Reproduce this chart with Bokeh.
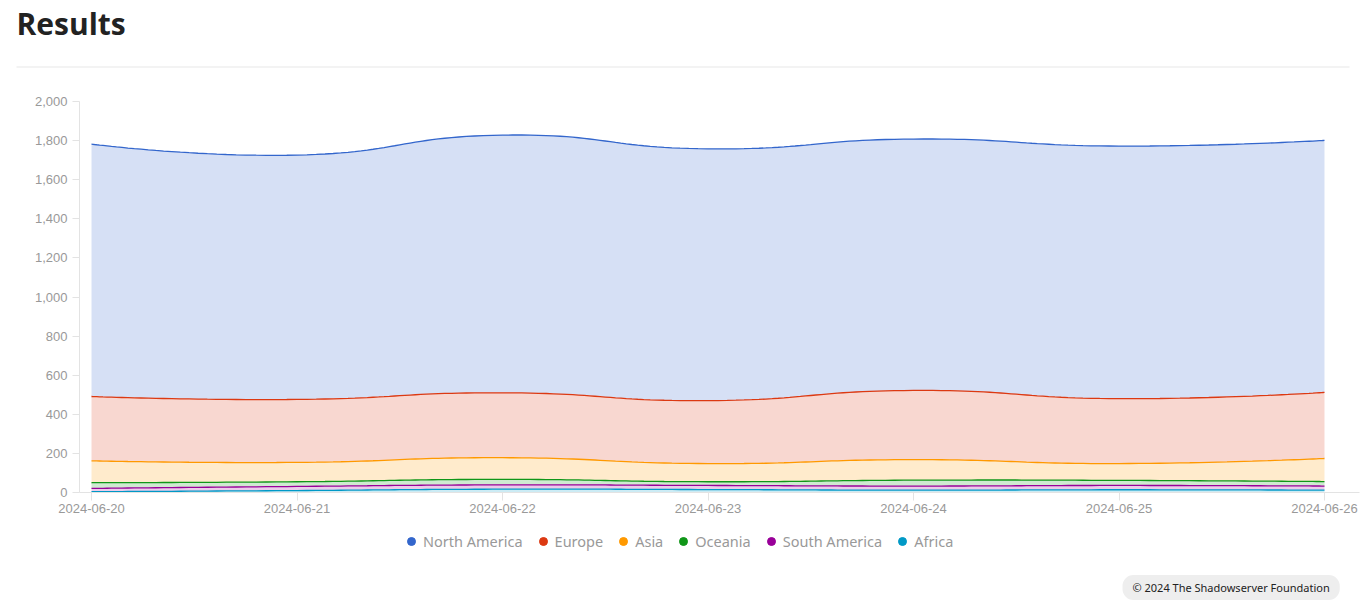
import numpy as np
from bokeh.plotting import figure
from bokeh.layouts import column
from bokeh.models import (Label, Legend, LegendItem, BoxAnnotation, FixedTicker,
                          NumeralTickFormatter, ColumnDataSource, Range1d)
from bokeh.embed import file_html
from bokeh.resources import INLINE

# ---------------- data ----------------
dates = ["2024-06-20", "2024-06-21", "2024-06-22", "2024-06-23",
         "2024-06-24", "2024-06-25", "2024-06-26"]
series_names = ["Africa", "South America", "Oceania", "Asia", "Europe", "North America"]
africa = [4, 10, 17, 15, 12, 14, 12]
south_america = [17, 21, 22, 21, 21, 22, 21]
oceania = [29, 24, 28, 19, 30, 26, 23]
asia = [112, 99, 111, 93, 105, 86, 118]
europe = [329, 322, 332, 322, 354, 332, 338]
north_america = [1291, 1250, 1318, 1288, 1286, 1292, 1289]
colors = ["#0099c6", "#990099", "#109618", "#ff9900", "#dc3912", "#3366cc"]
legend_order = ["North America", "Europe", "Asia", "Oceania", "South America", "Africa"]
y_ticks = list(range(0, 2001, 200))

values = [africa, south_america, oceania, asia, europe, north_america]

W = 1363

# ---------------- header ----------------
head = figure(width=W, height=70, output_backend="svg", toolbar_location=None,
              x_range=Range1d(0, W), y_range=Range1d(0, 70),
              x_axis_location=None, y_axis_location=None, frame_align=False,
              min_border=0, min_border_left=0, min_border_right=0,
              min_border_top=0, min_border_bottom=0)
head.outline_line_color = None
head.grid.visible = False
head.add_layout(Label(x=16, y=47, x_units="screen", y_units="screen", text="Results",
                      text_font="Open Sans", text_font_style="bold",
                      text_font_size="30px", text_color="#222222",
                      text_baseline="alphabetic", text_align="left"))
head.add_layout(BoxAnnotation(left=16, right=1349, bottom=3, top=4,
                              left_units="screen", right_units="screen",
                              top_units="screen", bottom_units="screen",
                              fill_color="#e8e8e8", fill_alpha=1, line_color=None))

# ---------------- main chart ----------------
ML, MR, MT, MB = 79, 4, 31, 30
MH = 452
FRAME_W = W - ML - MR
FRAME_H = MH - MT - MB
X0 = -12 / 205.5
X1 = 6 + (FRAME_W - 1245) / 205.5
XPX = FRAME_W / (X1 - X0)
YPX = FRAME_H / 2000.0

p = figure(width=W, height=MH, output_backend="svg", toolbar_location=None,
           x_range=Range1d(X0, X1), y_range=Range1d(0, 2000), frame_align=False,
           min_border_left=ML, min_border_right=MR, min_border_top=MT,
           min_border_bottom=MB)
p.outline_line_color = None
p.grid.visible = False


def smooth_curve(xs, ys, smooth=0.5, n=30):
    xs = np.asarray(xs, float)
    ys = np.asarray(ys, float)
    m = len(xs)
    cp_next = np.zeros((m, 2))
    cp_prev = np.zeros((m, 2))
    for i in range(m):
        if i == 0 or i == m - 1:
            cp_next[i] = (xs[i], ys[i])
            cp_prev[i] = (xs[i], ys[i])
            continue
        vx = xs[i + 1] - xs[i - 1]
        vy = ys[i + 1] - ys[i - 1]
        d0 = np.hypot((xs[i] - xs[i - 1]) * XPX, (ys[i] - ys[i - 1]) * YPX)
        d1 = np.hypot((xs[i + 1] - xs[i]) * XPX, (ys[i + 1] - ys[i]) * YPX)
        r = d1 / (d0 + d1)
        cp_next[i] = (xs[i] + vx * smooth * r, ys[i] + vy * smooth * r)
        cp_prev[i] = (xs[i] - vx * smooth * (1 - r), ys[i] - vy * smooth * (1 - r))
    outx, outy = [xs[0]], [ys[0]]
    t = np.linspace(0, 1, n + 1)[1:]
    for i in range(m - 1):
        p0 = np.array([xs[i], ys[i]])
        p1 = cp_next[i]
        p2 = cp_prev[i + 1]
        p3 = np.array([xs[i + 1], ys[i + 1]])
        b = ((1 - t) ** 3)[:, None] * p0 + (3 * (1 - t) ** 2 * t)[:, None] * p1 + \
            (3 * (1 - t) * t ** 2)[:, None] * p2 + (t ** 3)[:, None] * p3
        outx.extend(b[:, 0])
        outy.extend(b[:, 1])
    return np.array(outx), np.array(outy)


xidx = np.arange(len(dates))
tops = np.cumsum(np.array(values, float), axis=0)
curves = [smooth_curve(xidx, tops[k]) for k in range(len(values))]

for k in range(len(values)):
    ux, uy = curves[k]
    if k == 0:
        lx, ly = ux, np.zeros_like(uy)
    else:
        lx, ly = curves[k - 1]
    p.patch(np.concatenate([ux, lx[::-1]]), np.concatenate([uy, ly[::-1]]),
            fill_color=colors[k], fill_alpha=0.2, line_color=None)

for k in range(len(values)):
    ux, uy = curves[k]
    p.line(ux, uy, line_color=colors[k], line_width=1.3)

p.yaxis.ticker = FixedTicker(ticks=y_ticks)
p.yaxis.formatter = NumeralTickFormatter(format="0,0")
p.xaxis.ticker = FixedTicker(ticks=list(xidx))
p.xaxis.major_label_overrides = {int(i): d for i, d in zip(xidx, dates)}
for ax in (p.xaxis[0], p.yaxis[0]):
    ax.axis_line_color = "#e3e3e3"
    ax.major_tick_line_color = "#e3e3e3"
    ax.minor_tick_line_color = None
    ax.major_tick_in = 0
    ax.major_label_text_color = "#999999"
    ax.major_label_text_font = "Liberation Sans"
    ax.major_label_text_font_size = "13px"
p.yaxis.major_tick_out = 7
p.yaxis.major_label_standoff = 5
p.xaxis.major_tick_out = 8
p.xaxis.major_label_standoff = 3

# ---------------- footer: legend + credit ----------------
FH = 83
foot = figure(width=W, height=FH, output_backend="svg", toolbar_location=None,
              x_range=Range1d(0, W), y_range=Range1d(0, FH),
              x_axis_location=None, y_axis_location=None, frame_align=False,
              min_border=0, min_border_left=0, min_border_right=0,
              min_border_top=0, min_border_bottom=0)
foot.outline_line_color = None
foot.grid.visible = False

items = []
for name in legend_order:
    k = series_names.index(name)
    src = ColumnDataSource(data=dict(x=[np.nan], y=[np.nan]))
    r = foot.scatter("x", "y", source=src, marker="circle", size=8,
                     fill_color=colors[k], line_color=colors[k])
    items.append(LegendItem(label=name, renderers=[r]))
legend = Legend(items=items, orientation="horizontal", location=(401, 54),
                glyph_width=20, glyph_height=20, label_standoff=2, spacing=10,
                padding=0, margin=0, border_line_color=None,
                background_fill_alpha=0, label_text_font="Noto Sans",
                label_text_font_size="14.5px", label_text_color="#999999",
                label_height=20)
foot.add_layout(legend)

foot.add_layout(Label(x=1122, y=18, x_units="screen", y_units="screen",
                      text="\u00a9 2024 The Shadowserver Foundation",
                      text_font="Noto Sans", text_font_size="11px", text_color="#222222",
                      text_baseline="middle", text_align="left",
                      background_fill_color="#eeeeee", background_fill_alpha=1,
                      padding=dict(left=10, right=10, top=5, bottom=5),
                      border_radius=11))

layout = column(head, p, foot, spacing=0)
open("out.html", "w").write(file_html(layout, INLINE))
